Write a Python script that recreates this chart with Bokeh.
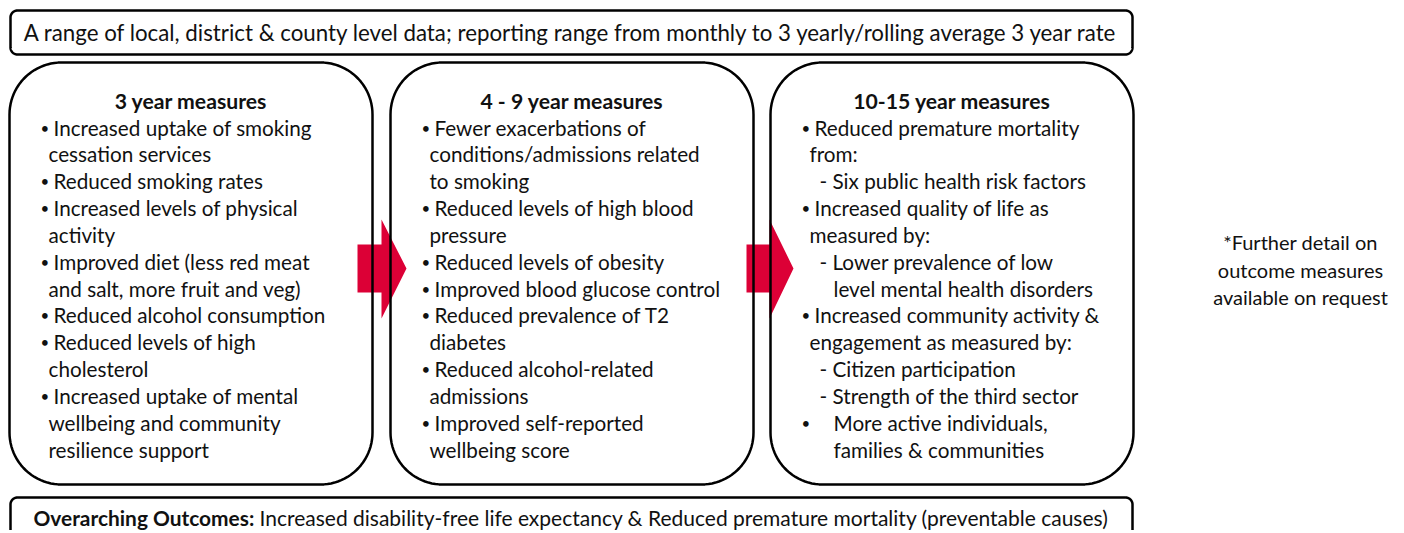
import numpy as np
from bokeh.plotting import figure
from bokeh.models import Range1d
from bokeh.core.properties import value
from bokeh.embed import file_html
from bokeh.resources import INLINE

FONT = "Lato"

top_text = "A range of local, district & county level data; reporting range from monthly to 3 yearly/rolling average 3 year rate"

titles = ["3 year measures", "4 - 9 year measures", "10-15 year measures"]

# style codes: b = bullet item, c = continuation, d = dash sub-item, w = wide continuation, B = wide bullet
box1_lines = [
    ("b", "Increased uptake of smoking"),
    ("c", "cessation services"),
    ("b", "Reduced smoking rates"),
    ("b", "Increased levels of physical"),
    ("c", "activity"),
    ("b", "Improved diet (less red meat"),
    ("c", "and salt, more fruit and veg)"),
    ("b", "Reduced alcohol consumption"),
    ("b", "Reduced levels of high"),
    ("c", "cholesterol"),
    ("b", "Increased uptake of mental"),
    ("c", "wellbeing and community"),
    ("c", "resilience support"),
]
box2_lines = [
    ("b", "Fewer exacerbations of"),
    ("c", "conditions/admissions related"),
    ("c", "to smoking"),
    ("b", "Reduced levels of high blood"),
    ("c", "pressure"),
    ("b", "Reduced levels of obesity"),
    ("b", "Improved blood glucose control"),
    ("b", "Reduced prevalence of T2"),
    ("c", "diabetes"),
    ("b", "Reduced alcohol-related"),
    ("c", "admissions"),
    ("b", "Improved self-reported"),
    ("c", "wellbeing score"),
]
box3_lines = [
    ("b", "Reduced premature mortality"),
    ("c", "from:"),
    ("d", "- Six public health risk factors"),
    ("b", "Increased quality of life as"),
    ("c", "measured by:"),
    ("d", "- Lower prevalence of low"),
    ("w", "level mental health disorders"),
    ("b", "Increased community activity &"),
    ("c", "engagement as measured by:"),
    ("d", "- Citizen participation"),
    ("d", "- Strength of the third sector"),
    ("B", "More active individuals,"),
    ("w", "families & communities"),
]
side_note = ["*Further detail on", "outcome measures", "available on request"]
bottom_bold = "Overarching Outcomes:"
bottom_rest = "Increased disability-free life expectancy & Reduced  premature mortality (preventable causes)"

W, H = 1400, 530
p = figure(width=W, height=H, output_backend="svg", toolbar_location=None,
           x_range=Range1d(0, W), y_range=Range1d(H, 0),
           min_border=0, outline_line_color=None)
p.axis.visible = False
p.grid.visible = False
p.background_fill_color = "white"
p.border_fill_color = "white"


def rrect(x0, y0, x1, y1, r, n=24):
    xs, ys = [], []
    corners = [(x1 - r, y0 + r, -90, 0), (x1 - r, y1 - r, 0, 90),
               (x0 + r, y1 - r, 90, 180), (x0 + r, y0 + r, 180, 270)]
    for cx, cy, a0, a1 in corners:
        t = np.radians(np.linspace(a0, a1, n))
        xs += list(cx + r * np.cos(t))
        ys += list(cy + r * np.sin(t))
    xs.append(xs[0]); ys.append(ys[0])
    return xs, ys


LW = 2.5
FS = "20.7px"
TC = "#111111"

# arrows (drawn under box outlines)
def arrow(xl, xh, xt, yc):
    xs = [xl, xh, xh, xt, xh, xh, xl]
    ys = [yc - 24, yc - 24, yc - 49, yc, yc + 50, yc + 24, yc + 24]
    p.patch(xs, ys, fill_color="#DC0036", line_color=None)

arrow(357, 381, 406, 268)
arrow(746, 769, 793, 268)

# top box
xs, ys = rrect(10, 10, 1132, 54, 7)
p.line(xs, ys, line_color="black", line_width=LW)
p.text([571], [32], text=[top_text], text_font=value(FONT), text_font_size="22.3px",
       text_align="center", text_baseline="middle", text_color=TC)

# bottom box
xs, ys = rrect(10, 497, 1132, 560, 7)
p.line(xs, ys, line_color="black", line_width=LW)
p.text([33], [517], text=[bottom_bold], text_font=value(FONT), text_font_size="20.9px",
       text_font_style="bold", text_align="left", text_baseline="middle", text_color=TC)
p.text([259], [517], text=[bottom_rest], text_font=value(FONT), text_font_size="21px",
       text_align="left", text_baseline="middle", text_color=TC)

# measure boxes
box_x = [(9, 372), (390, 753), (770, 1133)]
all_lines = [box1_lines, box2_lines, box3_lines]
indent = {"b": 13, "c": 8, "d": 18, "w": 32, "B": 32}
for (x0, x1), title, lines in zip(box_x, titles, all_lines):
    xs, ys = rrect(x0, 62, x1, 484, 52)
    p.line(xs, ys, line_color="black", line_width=LW)
    p.text([(x0 + x1) / 2], [100], text=[title], text_font=value(FONT), text_font_size="21.2px",
           text_font_style="bold", text_align="center", text_baseline="middle", text_color=TC)
    bx = x0 + 31
    tx, ty, tt, bxs, bys = [], [], [], [], []
    for i, (code, txt) in enumerate(lines):
        y = 127 + i * 26.85
        if code in ("b", "B"):
            bxs.append(bx); bys.append(y)
        tx.append(bx + indent[code]); ty.append(y); tt.append(txt)
    p.text(tx, ty, text=tt, text_font=value(FONT), text_font_size=FS,
           text_align="left", text_baseline="middle", text_color=TC)
    p.text(bxs, bys, text=["•"] * len(bxs), text_font=value(FONT), text_font_size="15px",
           text_align="left", text_baseline="middle", text_color=TC)

# side note
p.text([1300] * 3, [241, 269, 296], text=side_note, text_font=value(FONT), text_font_size="20px",
       text_align="center", text_baseline="middle", text_color=TC)

open("out.html", "w").write(file_html(p, INLINE))
